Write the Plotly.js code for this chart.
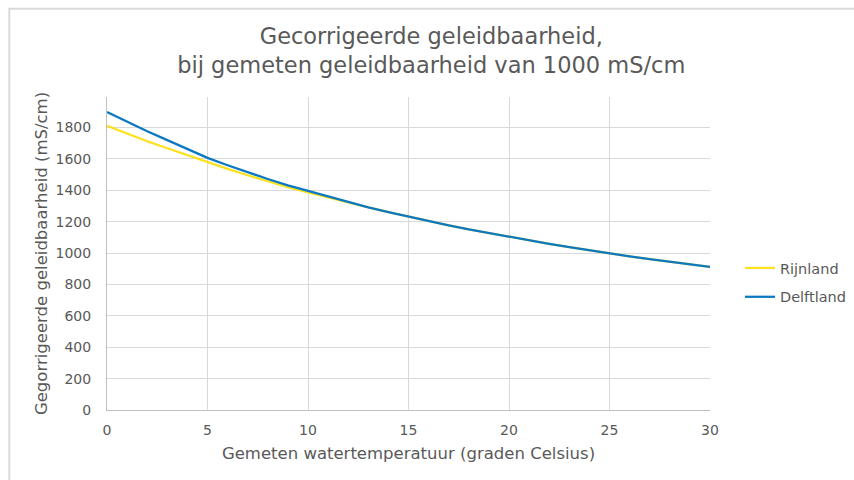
<!DOCTYPE html>
<html>
<head>
<meta charset="utf-8">
<script src="https://cdn.plot.ly/plotly-3.0.1.min.js"></script>
<style>html,body{margin:0;padding:0;background:#fff;}#chart{width:854px;height:480px;}</style>
</head>
<body>
<div id="chart"></div>
<script>
const temperatures = [0,1,2,3,4,5,6,7,8,9,10,11,12,13,14,15,16,17,18,19,20,21,22,23,24,25,26,27,28,29,30];
const rijnland = [1811,1761,1713,1668,1623,1579,1537,1496,1457,1421,1387,1354,1322,1292,1261,1232,1205,1177,1151,1127,1103,1081,1059,1038,1017,997,979,962,945,928,912];
const delftland = [1900,1838,1777,1720,1663,1607,1560,1515,1472,1432,1396,1360,1325,1292,1261,1232,1205,1177,1151,1127,1103,1081,1059,1038,1017,997,979,962,945,928,912];
const seriesNames = ['Rijnland','Delftland'];
const xTicks = [0,5,10,15,20,25,30];
const yTicks = [0,200,400,600,800,1000,1200,1400,1600,1800];

const font = 'DejaVu Sans, Verdana, sans-serif';
const grey = '#595959';

const traces = [
  {x: temperatures, y: rijnland, name: seriesNames[0], legendgroup: 'a', type: 'scatter', mode: 'lines',
   line: {color: '#FCE11E', width: 2.25}},
  {x: temperatures, y: delftland, name: seriesNames[1], legendgroup: 'b', type: 'scatter', mode: 'lines',
   line: {color: '#0B78C3', width: 2.25}}
];

const layout = {
  width: 854, height: 480,
  margin: {l: 107, r: 144, t: 97, b: 70},
  paper_bgcolor: '#fff', plot_bgcolor: '#fff',
  font: {family: font, color: grey, size: 14},
  title: {text: 'Gecorrigeerde geleidbaarheid,<br>bij gemeten geleidbaarheid van 1000 mS/cm',
          font: {family: font, size: 22.5, color: grey}, x: 0.505, xref: 'container', xanchor: 'center',
          y: 0.908, yref: 'container', yanchor: 'top'},
  xaxis: {range: [0, 30], tickvals: xTicks, ticktext: xTicks.map(String),
          showgrid: true, gridcolor: '#d9d9d9', gridwidth: 1, zeroline: false,
          showline: true, linecolor: '#bfbfbf', linewidth: 1, ticks: '', ticklabelstandoff: 7,
          tickfont: {size: 14, color: grey},
          title: {text: 'Gemeten watertemperatuur (graden Celsius)', font: {size: 16.5, color: grey}, standoff: 10}},
  yaxis: {range: [0, 1995], tickvals: yTicks, ticktext: yTicks.map(String),
          showgrid: true, gridcolor: '#d9d9d9', gridwidth: 1, zeroline: false,
          showline: true, linecolor: '#bfbfbf', linewidth: 1, ticks: '', ticklabelstandoff: 12,
          tickfont: {size: 14, color: grey},
          title: {text: 'Gegorrigeerde geleidbaarheid (mS/cm)', font: {size: 16.5, color: grey}, standoff: 3}},
  legend: {x: 0.8665, xref: 'container', xanchor: 'left', y: 0.475, yref: 'container', yanchor: 'top',
           font: {size: 14.5, color: grey}, bgcolor: 'rgba(0,0,0,0)', tracegroupgap: 7},
  shapes: [
    {type: 'line', xref: 'paper', yref: 'paper', x0: -0.162, x1: 1.3, y0: 1.282, y1: 1.282,
     line: {color: '#d9d9d9', width: 2}, layer: 'above'},
    {type: 'line', xref: 'paper', yref: 'paper', x0: -0.162, x1: -0.162, y0: -0.4, y1: 1.285,
     line: {color: '#d9d9d9', width: 2}, layer: 'above'}
  ],
  showlegend: true
};

Plotly.newPlot('chart', traces, layout, {staticPlot: true, displayModeBar: false});
</script>
</body>
</html>
